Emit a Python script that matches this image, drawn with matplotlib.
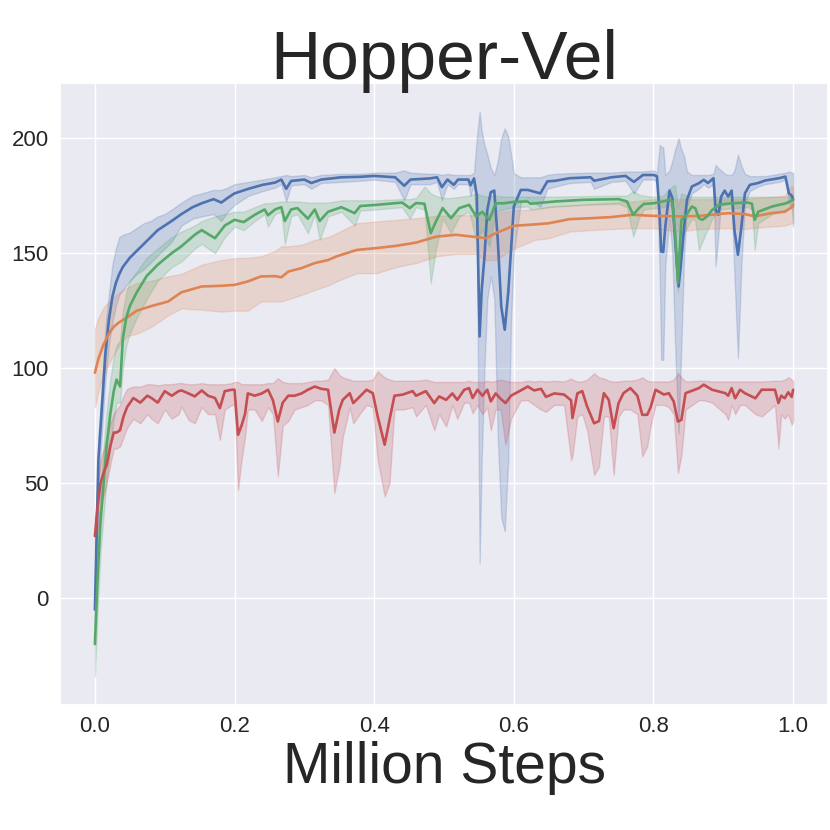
import numpy as np
import matplotlib
matplotlib.use("Agg")
import matplotlib.pyplot as plt
import seaborn as sns

# ---------------- data ----------------
blue_x = [0.000, 0.005, 0.010, 0.015, 0.020, 0.025, 0.030, 0.035, 0.040, 0.050, 0.060, 0.070, 0.080, 0.090,
          0.100, 0.110, 0.124, 0.140, 0.153, 0.170, 0.181, 0.190, 0.200, 0.220, 0.240, 0.258, 0.267, 0.274,
          0.281, 0.300, 0.310, 0.324, 0.353, 0.380, 0.400, 0.430, 0.443, 0.452, 0.480, 0.490, 0.497, 0.505,
          0.514, 0.520, 0.535, 0.538, 0.543, 0.547, 0.551, 0.554, 0.558, 0.562, 0.567, 0.572, 0.577, 0.582,
          0.587, 0.592, 0.596, 0.600, 0.610, 0.620, 0.638, 0.648, 0.660, 0.680, 0.710, 0.715, 0.740, 0.760,
          0.772, 0.785, 0.800, 0.805, 0.809, 0.811, 0.814, 0.817, 0.823, 0.827, 0.831, 0.836, 0.839, 0.844,
          0.848, 0.855, 0.865, 0.872, 0.878, 0.886, 0.889, 0.893, 0.897, 0.902, 0.907, 0.912, 0.916, 0.921,
          0.926, 0.931, 0.938, 0.950, 0.960, 0.980, 0.989, 0.994, 0.998, 1.000]
blue_mean = [-5, 60, 83, 106, 121, 131, 137, 141, 144, 148, 151, 154, 157, 160,
             162, 164, 167, 170, 171.7, 173.5, 172, 174, 176, 178, 179.7, 180.7, 182, 178,
             181.4, 182, 180.5, 182, 183, 183.2, 183.6, 183, 179.3, 182, 182.5, 183, 178.7, 182,
             179.7, 182, 182, 179.5, 182.5, 175, 113.8, 134, 148.6, 168.8, 176.5, 177.2, 155.8, 126.8,
             116.7, 132.9, 151.4, 170.3, 177.5, 177.5, 176, 181.2, 181.5, 182.6, 183, 181.5, 183, 183.6,
             181, 184, 184, 183.5, 166, 150.7, 150.5, 161.6, 177.2, 174, 155.8, 135.5, 144, 161.6,
             173.2, 179, 180.4, 181.9, 180.5, 182.6, 168.8, 166.7, 174.6, 177.2, 174.6, 177.2, 160, 149.3,
             161.6, 176, 179.7, 180.5, 181.6, 182.6, 183.3, 176, 175, 173.2]
blue_lo = [-12, 48, 72, 95, 110, 120, 127, 132, 134, 138, 141, 143, 146, 149,
           152, 155, 162, 165, 166, 167, 164, 168, 171, 175, 177, 178.5, 180, 172.5,
           179.5, 180, 178, 180.5, 181, 181.5, 182, 181, 173, 180, 180, 181, 173, 180,
           178, 180, 180, 175, 180, 160, 15, 60, 100, 130, 140, 130, 70, 35,
           29, 60, 120, 150, 172, 174, 170, 178, 179, 180.5, 181, 178, 181, 181.5,
           176, 182, 182, 181, 140, 103.6, 103.6, 145, 165, 150, 110, 71.7, 100, 150,
           170, 176, 178, 180, 178.5, 180, 144.2, 158, 172, 172, 172, 172, 140, 104.3,
           145, 172, 177, 179, 180, 181, 182, 172, 170, 161.6]
blue_hi = [5, 70, 92, 118, 132, 145, 152, 157, 158, 159, 161, 163, 164, 166,
           167, 169, 172, 175, 176, 177.5, 177.5, 178.5, 180, 181, 182, 183, 183.5, 184,
           183.5, 184, 183, 184, 184.5, 184.5, 185, 185, 186, 185, 184.5, 184.5, 184, 184.5,
           184, 184, 184, 184, 185, 200, 211.6, 203, 197, 193, 187, 184, 190, 200,
           204.3, 200.7, 193, 184.8, 183, 183, 183, 184, 184.5, 184.8, 185, 185, 185, 185.5,
           185.5, 185.5, 186, 185, 197.1, 196.4, 196, 184, 186, 190, 195, 200, 196, 192,
           185.5, 184, 184, 184, 184, 184.5, 188.4, 187, 186, 184.5, 184, 184, 186, 192.8,
           188, 184.5, 183.5, 183.5, 183.5, 184.5, 185, 185.5, 185, 185]

orange_x = [0.000, 0.005, 0.012, 0.020, 0.027, 0.035, 0.046, 0.060, 0.081, 0.105, 0.124, 0.153, 0.181,
            0.200, 0.219, 0.238, 0.258, 0.267, 0.277, 0.296, 0.315, 0.334, 0.346, 0.375, 0.403, 0.432,
            0.460, 0.489, 0.517, 0.546, 0.560, 0.574, 0.600, 0.630, 0.650, 0.680, 0.710, 0.740, 0.770,
            0.800, 0.836, 0.865, 0.907, 0.931, 0.945, 0.969, 0.988, 0.998, 1.000]
orange_mean = [98, 104, 110, 115, 118, 120, 122, 125, 127, 129, 133, 135.5, 135.8,
               136.2, 137.7, 139.9, 140, 139.5, 142, 143.5, 145.7, 147, 148.6, 151.4, 152.2, 153.2,
               154.6, 157.2, 158, 157, 156.5, 158.7, 161.9, 162.5, 163, 164.8, 165.2, 165.7, 166.7,
               166.2, 166, 166.2, 167.4, 167, 166, 167.4, 168, 170, 171]
orange_lo = [83, 90, 97, 102, 106, 110, 114, 115, 118, 123, 126, 125.4, 124.6,
             125, 125, 129, 129, 129, 130, 131.9, 134, 136, 137.7, 141.3, 141.3, 144,
             145.7, 148.6, 149.7, 149.7, 147, 147, 152, 155.8, 156.5, 159.4, 160, 160.5, 160.9,
             160.9, 159.4, 160.5, 160.9, 160.5, 161, 161.6, 162, 163, 163]
orange_hi = [117, 122, 126, 129, 131, 133, 135, 137, 138, 140, 141, 145, 147,
             147.8, 148, 148.6, 151, 153, 153, 153.6, 155.8, 157, 158.7, 163, 163.8, 164.5,
             165.2, 166.2, 166.5, 166.5, 167, 167.4, 168.6, 169, 170.3, 170.8, 171.4, 172, 172.5,
             173.5, 173.5, 173.5, 173.5, 173.5, 174, 174.5, 175, 179.3, 178]

green_x = [0.000, 0.004, 0.008, 0.013, 0.017, 0.022, 0.027, 0.031, 0.036, 0.040, 0.045, 0.050, 0.060,
           0.074, 0.090, 0.110, 0.124, 0.143, 0.153, 0.172, 0.186, 0.200, 0.213, 0.229, 0.243, 0.248,
           0.258, 0.267, 0.272, 0.281, 0.290, 0.305, 0.315, 0.322, 0.334, 0.353, 0.372, 0.380, 0.403,
           0.440, 0.451, 0.460, 0.472, 0.481, 0.488, 0.498, 0.510, 0.522, 0.536, 0.546, 0.555, 0.565,
           0.574, 0.586, 0.600, 0.620, 0.624, 0.660, 0.700, 0.750, 0.762, 0.771, 0.779, 0.786, 0.800,
           0.814, 0.823, 0.827, 0.831, 0.835, 0.840, 0.846, 0.855, 0.860, 0.865, 0.870, 0.877, 0.884,
           0.894, 0.913, 0.935, 0.941, 0.945, 0.950, 0.970, 0.990, 1.000]
green_mean = [-20, 10, 33, 52, 67, 80, 90, 95, 92, 113, 122, 127, 133,
              140, 145, 150, 153, 158, 160, 156.5, 162, 164.5, 163.5, 166.7, 169, 166.5,
              169, 170, 164, 169, 169.6, 165, 169, 164, 168, 170, 167.4, 170.5, 171,
              172, 169.6, 171.8, 171.5, 158.7, 163.5, 169.6, 165.2, 169.6, 171, 166, 168, 164.5,
              171.7, 171.7, 172.3, 172.5, 171.5, 172.5, 173.2, 173.5, 172.5, 166.7, 169.5, 171.4, 171.7,
              172.5, 173.2, 172.5, 158.7, 137, 164.5, 166, 170.3, 169.5, 165.2, 164.5, 166, 168.8,
              171, 171.7, 172, 171.5, 164.5, 168, 170.3, 171.7, 173.2]
green_lo = [-34, -5, 20, 38, 52, 65, 78, 85, 85, 100, 110, 115, 122,
            130, 138, 144, 146.4, 152, 154, 150, 157, 161.6, 160, 164, 167, 161.6,
            167, 168, 154, 166, 167, 158.7, 167, 155.8, 166, 168, 162, 168.5, 169,
            170, 165, 170, 169, 137, 151, 165, 158.7, 166, 168, 155.8, 160, 152.9,
            168, 169, 170, 170.3, 169, 170.3, 171, 171.5, 170, 157.2, 165, 169, 169.5,
            170, 171, 170, 150, 133, 155, 160, 165, 164, 151.4, 155, 160, 165,
            169, 169.5, 170, 169, 151.4, 163, 167, 169, 170]
green_hi = [-8, 25, 48, 68, 82, 95, 105, 110, 112, 125, 133, 138, 142,
            148, 152, 157, 159.4, 162, 164, 166, 167, 168, 168, 170, 171.7, 171.7,
            172, 172.5, 172.5, 172.5, 172.5, 172, 172, 172, 172, 173, 173, 173, 173,
            173.5, 173.5, 174, 179, 176, 175, 174, 174, 174.5, 175, 176, 175, 174.5,
            175, 174.6, 174.6, 174.6, 174.6, 174.6, 174.8, 175, 175, 177, 175.5, 175, 174.5,
            175, 178, 179, 179.7, 170, 176, 175, 174.5, 174.5, 174.5, 174.5, 174.5, 174.5,
            174.5, 174.5, 174.5, 174.5, 174.5, 174.5, 174.5, 174.5, 175]

red_x = [0.000, 0.004, 0.008, 0.013, 0.017, 0.022, 0.027, 0.031, 0.036, 0.041, 0.046, 0.055, 0.065,
         0.075, 0.081, 0.090, 0.100, 0.110, 0.120, 0.124, 0.134, 0.143, 0.153, 0.162, 0.172, 0.179,
         0.186, 0.196, 0.200, 0.205, 0.210, 0.215, 0.219, 0.229, 0.239, 0.248, 0.255, 0.262, 0.269,
         0.277, 0.286, 0.296, 0.305, 0.315, 0.324, 0.334, 0.343, 0.350, 0.355, 0.365, 0.370, 0.379,
         0.389, 0.398, 0.405, 0.415, 0.422, 0.429, 0.441, 0.455, 0.460, 0.474, 0.486, 0.493, 0.503,
         0.512, 0.519, 0.529, 0.536, 0.541, 0.548, 0.555, 0.562, 0.567, 0.574, 0.581, 0.588, 0.596,
         0.610, 0.620, 0.629, 0.639, 0.646, 0.658, 0.672, 0.682, 0.684, 0.691, 0.698, 0.705, 0.715,
         0.722, 0.729, 0.736, 0.743, 0.750, 0.757, 0.767, 0.777, 0.784, 0.791, 0.796, 0.803, 0.815,
         0.822, 0.829, 0.835, 0.840, 0.846, 0.865, 0.872, 0.884, 0.903, 0.907, 0.912, 0.917, 0.924,
         0.931, 0.946, 0.955, 0.974, 0.979, 0.983, 0.988, 0.993, 0.998, 1.000]
red_mean = [27, 40, 50, 55, 58, 66, 72, 72, 73, 79, 83, 87, 85,
            88, 87, 85, 90, 88, 90, 90.3, 89, 87.7, 90.3, 88, 87, 82.6,
            90, 90.6, 90.6, 71, 75, 80, 89, 88, 89, 90.6, 86, 76.8, 85,
            88, 88, 89, 90.6, 92, 91, 90.6, 72, 82, 86.2, 89.1, 84.8, 87.5,
            90.6, 89.1, 79, 66.7, 77.5, 88, 88.5, 90, 88, 90, 84.8, 87.7, 86.2,
            89, 86.2, 90.6, 91.3, 87, 90.6, 88, 90.6, 85.5, 89, 86.7, 84.8, 88,
            90.3, 92, 90.3, 91, 87.5, 89, 88.5, 86, 78.3, 89, 90, 83.3, 76,
            77, 89.1, 86.2, 73.9, 84.8, 89.1, 91.3, 88, 79.7, 79.7, 83, 90.6, 88.5,
            89.1, 85.5, 76.8, 77.5, 89.1, 91.3, 92.8, 90.6, 89.1, 88, 91.3, 86.9, 90.6,
            89.1, 86.9, 90.6, 90.6, 84.8, 88, 86.9, 89.5, 87.5, 90.6]
red_lo = [20, 30, 40, 45, 50, 58, 65, 65, 66, 70, 74, 78, 76,
          80, 78, 76, 82, 78, 80, 83.3, 77.5, 76, 83, 80, 80, 68.8,
          82, 84, 84, 47, 60, 70, 82, 82, 77, 83, 80, 53, 75,
          77, 82, 83, 84, 86, 86, 84, 45.7, 57, 70, 83, 76, 80,
          84, 83, 60, 44.2, 50, 82, 82, 83, 79, 84, 73, 80, 74.6,
          84, 78, 85, 85, 80.4, 84, 80, 83, 73, 82, 82, 66.7, 78,
          86, 86, 84, 82, 81, 84, 84, 60, 62, 79, 80, 73, 53.6,
          57.2, 79, 79, 53.6, 79, 82, 82, 80, 61.6, 66, 75, 84, 84,
          83, 80, 54.3, 62, 82, 86, 86, 85, 80, 77.5, 84, 80, 84,
          84, 80, 79, 84, 65.2, 80, 78, 80, 75.4, 77]
red_hi = [35, 50, 60, 65, 70, 76, 80, 82, 84, 88, 91, 92, 92,
          93, 93, 92.5, 93, 93, 93.5, 93.5, 93, 93, 93.5, 93, 93, 93,
          93, 93.5, 94, 94, 93, 93, 93, 93, 93, 93.5, 93.5, 95.6, 94,
          93.5, 93.5, 93.5, 94, 94.5, 94.5, 95, 100, 97, 96, 95, 94.5, 94.5,
          94.5, 95, 98.6, 96, 95, 94.5, 94.5, 94.5, 94.5, 95, 94, 94, 94,
          94, 94, 94, 94.5, 94, 94, 94, 94.5, 94, 94.5, 95, 94.5, 94,
          94, 94.5, 94.2, 94.5, 94.2, 94.5, 94.2, 95.5, 95, 94.2, 94.2, 95, 97.8,
          96, 95.5, 94.5, 94.2, 94.2, 94.5, 94.5, 95, 96, 94.5, 94.2, 94.2, 94.2,
          94.2, 95, 97.8, 96, 94.2, 94.5, 94.5, 94.2, 94.2, 94.2, 94.2, 94.2, 94.2,
          94.2, 94.2, 94.2, 94.5, 94.5, 94.5, 95, 96, 95, 94.5]

title_text = "Hopper-Vel"
xlabel_text = "Million Steps"
xticks = [0.0, 0.2, 0.4, 0.6, 0.8, 1.0]
yticks = [0, 50, 100, 150, 200]

# ---------------- plotting ----------------
sns.set_theme(style="darkgrid")
plt.rcParams['font.family'] = ['Liberation Sans', 'DejaVu Sans']
pal = sns.color_palette("deep")

fig = plt.figure(figsize=(8.3, 8.3), dpi=100)
ax = fig.add_axes([60 / 830, 1 - 705 / 830, 768 / 830, 622 / 830])

series = [
    (blue_x, blue_mean, blue_lo, blue_hi, pal[0]),
    (orange_x, orange_mean, orange_lo, orange_hi, pal[1]),
    (green_x, green_mean, green_lo, green_hi, pal[2]),
    (red_x, red_mean, red_lo, red_hi, pal[3]),
]
for xs, m, lo, hi, c in series:
    ax.fill_between(xs, lo, hi, color=c, alpha=0.22, linewidth=1.0)
for xs, m, lo, hi, c in series:
    ax.plot(xs, m, color=c, linewidth=1.9)

ax.set_xlim(-0.05, 1.05)
ax.set_ylim(-46.5, 224)
ax.set_xticks(xticks)
ax.set_xticklabels([f"{t:.1f}" for t in xticks])
ax.set_yticks(yticks)
ax.set_yticklabels([str(t) for t in yticks])
ax.tick_params(axis='both', labelsize=16, length=0, colors='#262626')
ax.tick_params(axis='x', pad=8)
ax.tick_params(axis='y', pad=8)

ax.set_title(title_text, fontsize=50, pad=3, color='#262626')
ax.set_xlabel(xlabel_text, fontsize=41, labelpad=3, color='#262626')

fig.savefig("out.png", dpi=100)
